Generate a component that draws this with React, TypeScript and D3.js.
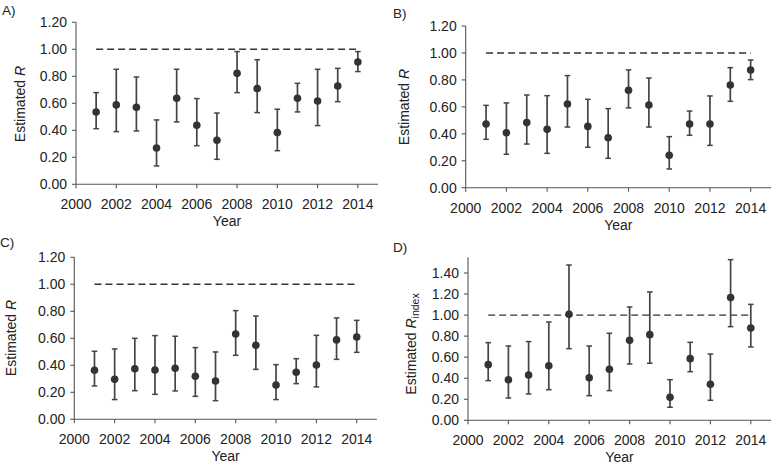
import React from "react";
import * as d3 from "d3";

const years = [2001, 2002, 2003, 2004, 2005, 2006, 2007, 2008, 2009, 2010, 2011, 2012, 2013, 2014];

const aEst = [0.536, 0.588, 0.570, 0.269, 0.637, 0.437, 0.326, 0.822, 0.709, 0.383, 0.637, 0.617, 0.728, 0.906];
const aLow = [0.412, 0.390, 0.395, 0.136, 0.462, 0.286, 0.185, 0.679, 0.531, 0.249, 0.536, 0.435, 0.612, 0.835];
const aHigh = [0.679, 0.852, 0.795, 0.477, 0.852, 0.635, 0.528, 0.983, 0.923, 0.556, 0.748, 0.852, 0.859, 0.983];

const bEst = [0.473, 0.408, 0.483, 0.433, 0.621, 0.455, 0.371, 0.723, 0.614, 0.240, 0.473, 0.473, 0.762, 0.874];
const bLow = [0.359, 0.248, 0.324, 0.255, 0.450, 0.300, 0.218, 0.592, 0.450, 0.139, 0.389, 0.314, 0.641, 0.802];
const bHigh = [0.611, 0.629, 0.688, 0.683, 0.832, 0.656, 0.587, 0.874, 0.814, 0.379, 0.569, 0.681, 0.891, 0.948];

const cEst = [0.363, 0.296, 0.375, 0.365, 0.378, 0.319, 0.284, 0.632, 0.548, 0.254, 0.348, 0.402, 0.588, 0.610];
const cLow = [0.247, 0.146, 0.212, 0.185, 0.210, 0.170, 0.138, 0.474, 0.370, 0.146, 0.264, 0.240, 0.444, 0.496];
const cHigh = [0.504, 0.521, 0.600, 0.620, 0.615, 0.531, 0.499, 0.805, 0.765, 0.405, 0.449, 0.622, 0.751, 0.733];

const dEst = [0.529, 0.386, 0.431, 0.519, 1.007, 0.405, 0.485, 0.760, 0.814, 0.219, 0.586, 0.342, 1.166, 0.877];
const dLow = [0.377, 0.212, 0.250, 0.291, 0.681, 0.234, 0.282, 0.535, 0.542, 0.124, 0.462, 0.190, 0.890, 0.697];
const dHigh = [0.738, 0.706, 0.748, 0.934, 1.476, 0.706, 0.827, 1.077, 1.220, 0.386, 0.741, 0.630, 1.527, 1.102];

const xTicks = [2000, 2002, 2004, 2006, 2008, 2010, 2012, 2014];
const yTicksR = [0, 0.2, 0.4, 0.6, 0.8, 1.0, 1.2];
const yTicksIdx = [0, 0.2, 0.4, 0.6, 0.8, 1.0, 1.2, 1.4];
const refValue = 1.0;

const FONT = "'Liberation Sans', Arial, Helvetica, sans-serif";
const TXT = "#222";
const AX = "#555";
const BAR = "#444";
const PT = "#333";

type PanelProps = {
  letter: string;
  letterX: number;
  letterY: number;
  left: number;
  right: number;
  y0: number;
  yT: number;
  yTopVal: number;
  axisTopVal: number;
  yTicks: number[];
  est: number[];
  low: number[];
  high: number[];
  ylabX: number;
  ylabY: number;
  index?: boolean;
};

function Panel(p: PanelProps) {
  const x = d3.scaleLinear().domain([2000, 2015]).range([p.left, p.right]);
  const y = d3.scaleLinear().domain([0, p.yTopVal]).range([p.y0, p.yT]);
  const fmt = d3.format(".2f");
  const cap = 2.8;
  return (
    <g>
      <text x={p.letterX} y={p.letterY} fontFamily={FONT} fontSize={13.5} fill={TXT}>{p.letter}</text>
      {/* dashed reference */}
      <line x1={x(years[0])} x2={x(years[years.length - 1])} y1={y(refValue)} y2={y(refValue)}
        stroke="#333" strokeWidth={1.4} strokeDasharray="7,4" />
      {/* axes */}
      <line x1={p.left} x2={p.left} y1={p.y0} y2={y(p.axisTopVal)} stroke={AX} strokeWidth={1.1} />
      <line x1={p.left} x2={p.right} y1={p.y0} y2={p.y0} stroke={AX} strokeWidth={1.1} />
      {p.yTicks.map((t) => (
        <g key={"y" + t}>
          <line x1={p.left - 4} x2={p.left} y1={y(t)} y2={y(t)} stroke={AX} strokeWidth={1.1} />
          <text x={p.left - 9} y={y(t)} dy="0.36em" textAnchor="end" fontFamily={FONT} fontSize={14} fill={TXT}>{fmt(t)}</text>
        </g>
      ))}
      {xTicks.map((t) => (
        <g key={"x" + t}>
          <line x1={x(t)} x2={x(t)} y1={p.y0} y2={p.y0 + 4} stroke={AX} strokeWidth={1.1} />
          <text x={x(t)} y={p.y0 + 25} textAnchor="middle" fontFamily={FONT} fontSize={14} fill={TXT}>{t}</text>
        </g>
      ))}
      <text x={(p.left + p.right) / 2} y={p.y0 + 42} textAnchor="middle" fontFamily={FONT} fontSize={14} fill={TXT}>Year</text>
      <text transform={`translate(${p.ylabX},${p.ylabY}) rotate(-90)`} textAnchor="middle" fontFamily={FONT} fontSize={14} fill={TXT}>
        Estimated <tspan fontStyle="italic">R</tspan>
        {p.index ? <tspan fontSize={10.5} dy="3">index</tspan> : null}
      </text>
      {years.map((yr, i) => (
        <g key={yr}>
          <line x1={x(yr)} x2={x(yr)} y1={y(p.low[i])} y2={y(p.high[i])} stroke={BAR} strokeWidth={1.7} />
          <line x1={x(yr) - cap} x2={x(yr) + cap} y1={y(p.low[i])} y2={y(p.low[i])} stroke={BAR} strokeWidth={1.5} />
          <line x1={x(yr) - cap} x2={x(yr) + cap} y1={y(p.high[i])} y2={y(p.high[i])} stroke={BAR} strokeWidth={1.5} />
          <circle cx={x(yr)} cy={y(p.est[i])} r={3.8} fill={PT} />
        </g>
      ))}
    </g>
  );
}

export default function App() {
  return (
    <svg width={772} height={467} style={{ position: "absolute", left: 0, top: 0, background: "#fff" }}>
      <rect width={772} height={467} fill="#fff" />
      <Panel letter="A)" letterX={2} letterY={15} left={76} right={378} y0={184.3} yT={22.3} yTopVal={1.2} axisTopVal={1.2}
        yTicks={yTicksR} est={aEst} low={aLow} high={aHigh} ylabX={25} ylabY={104} />
      <Panel letter="B)" letterX={393} letterY={18} left={465.7} right={771} y0={187.7} yT={26} yTopVal={1.2} axisTopVal={1.2}
        yTicks={yTicksR} est={bEst} low={bLow} high={bHigh} ylabX={409} ylabY={107} />
      <Panel letter="C)" letterX={0} letterY={247} left={74.3} right={376.9} y0={419.3} yT={257.3} yTopVal={1.2} axisTopVal={1.2}
        yTicks={yTicksR} est={cEst} low={cLow} high={cHigh} ylabX={16} ylabY={338} />
      <Panel letter="D)" letterX={393} letterY={252} left={468} right={771} y0={420.3} yT={273} yTopVal={1.4} axisTopVal={1.55}
        yTicks={yTicksIdx} est={dEst} low={dLow} high={dHigh} ylabX={416} ylabY={344} index />
    </svg>
  );
}
